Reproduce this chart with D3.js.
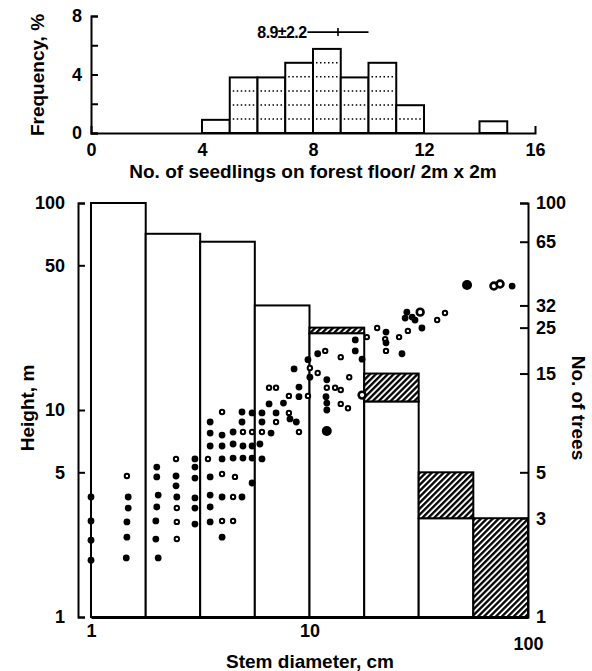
<!DOCTYPE html>
<html><head><meta charset="utf-8">
<script src="https://cdn.jsdelivr.net/npm/d3@7"></script>
<style>
body{margin:0;background:#fff}
text{font-family:"Liberation Sans",Arial,Helvetica,sans-serif;font-weight:bold;fill:#000}
</style>
</head><body>
<svg id="c" width="592" height="671"></svg>
<script>
// ---------- DATA ----------
// Top histogram: seedlings per 2m x 2m quadrat
const seedBinStart = [4, 5, 6, 7, 8, 9, 10, 11, 14];
const seedFreq     = [0.9, 3.8, 3.8, 4.8, 5.75, 3.8, 4.8, 1.9, 0.8];
const seedLevels   = [0.96, 1.92, 2.88, 3.84, 4.8];   // one quadrat per level
const seedMean = 8.9, seedSD = 2.2;
const seedMeanLabel = "8.9±2.2";
const seedXTicks = [0, 4, 8, 12, 16];
const seedYTicks = [0, 2, 4, 6, 8];
const seedYLabels = [0, 4, 8];

// Main: diameter classes and number of trees
const diamEdges   = [1, 1.78, 3.16, 5.62, 10, 17.8, 31.6, 56.2, 100];
const treesTotal  = [100, 71, 65, 32, 25, 15, 5, 3];
const treesOpen   = [100, 71, 65, 32, 23.5, 11, 3, 1];
const heightTicks = [1, 5, 10, 50, 100];
const treeTicks   = [1, 3, 5, 15, 25, 32, 65, 100];
const diamTicks   = [1, 10, 100];

// Scatter: stem diameter (cm), height (m), marker (f filled, o open, F/O large)
const treeDiameter = [1.0,1.0,1.0,1.0, 1.46,1.48,1.48,1.46,1.46,1.45, 2.0,2.0,2.03,2.0,1.98,1.98,2.03,
 2.45,2.45,2.45,2.47,2.47,2.47,2.47, 2.99,2.99,2.99,2.99,2.99,2.99,
 3.51,3.51,3.51,3.43,3.51,3.51,3.51,3.51, 3.98,3.98,3.98,3.98,3.98,3.98,3.98,3.98,
 4.47,4.47,4.47,4.56,4.47,4.47, 4.91,4.91,4.96,4.96,4.96,4.91, 5.46,5.46,5.46,5.46,5.46,
 6.06,6.06,6.06,5.93,6.06, 6.53,6.53,6.67, 7.03,7.03,7.03, 7.6, 8.05,8.05,8.14,8.5,
 8.95,8.95,8.7,8.95, 9.84,9.84,10.04,10.04, 10.9,10.9, 11.8,12.0,12.0,11.9,12.0,12.0,12.0,
 13.1, 13.9,13.9,13.9, 15.2,15.0, 16.2,16.2, 17.4,17.4, 18.3,20.4, 22.4,22.2,22.4,22.4,
 25.7,26.5, 27.9,29.5,27.4,32.1,30.4,28.2,32.7, 38.4,41.7, 52.6,69.8,74.5,84.6];
const treeHeight = [3.80,2.91,2.35,1.88, 4.80,3.80,3.36,2.88,2.43,1.93, 5.30,4.75,3.88,3.40,2.91,2.38,1.93,
 5.80,4.80,4.30,3.80,3.36,2.88,2.38, 5.80,5.30,4.69,3.76,3.36,2.81,
 8.75,7.74,6.70,5.80,4.75,3.88,3.40,2.88, 9.78,7.57,6.70,5.80,4.91,3.80,2.91,2.43,
 7.83,6.85,5.86,4.75,3.80,2.91, 9.78,8.75,7.83,6.70,5.86,3.80, 9.68,7.83,6.70,5.86,4.44,
 9.68,8.75,7.83,6.85,5.80, 12.8,10.7,7.74, 12.8,9.68,8.75, 10.8, 11.7,9.68,9.05,15.8,
 12.9,11.6,8.75,7.83, 11.7,17.5,15.96,14.4, 18.7,15.1, 19.3,14.0,12.8,11.6,10.8,10.0,7.92,
 12.8, 18.0,12.5,10.7, 14.4,10.2, 21.8,19.3, 17.6,11.8, 22.5,24.9, 23.8,22.0,21.1,19.3,
 22.5,18.7, 29.7,28.1,27.8,29.7,27.2,24.1,24.9, 27.2,29.4, 40.2,39.7,40.6,39.7];
const treeMark = ["f","f","f","f", "o","f","f","f","f","f", "f","f","f","f","f","f","f",
 "o","f","f","f","o","o","o", "f","f","f","f","f","f",
 "f","f","f","o","f","f","f","f", "o","f","f","f","o","f","o","f",
 "f","f","f","o","o","o", "f","f","o","f","f","f", "f","o","f","f","f",
 "f","f","o","f","f", "o","f","f", "o","f","o", "f", "o","o","f","f",
 "f","f","f","o", "o","f","o","f", "f","o", "o","f","o","f","f","f","F",
 "o", "o","o","o", "o","o", "f","f", "f","O", "o","o", "f","o","f","o",
 "o","f", "f","f","f","O","f","o","f", "o","o", "F","O","O","f"];

// ---------- DRAW ----------
const svg = d3.select("#c");
const defs = svg.append("defs");
const pat = defs.append("pattern").attr("id","hatch").attr("patternUnits","userSpaceOnUse")
  .attr("width",4.2).attr("height",4.2).attr("patternTransform","rotate(45)");
pat.append("rect").attr("width",4.2).attr("height",4.2).attr("fill","#fff");
pat.append("line").attr("x1",1.2).attr("y1",0).attr("x2",1.2).attr("y2",4.2)
  .attr("stroke","#000").attr("stroke-width",2.3);

function styleAxis(g, w, fs){
  g.select(".domain").attr("stroke","#000").attr("stroke-width",w).attr("fill","none");
  g.selectAll(".tick line").attr("stroke","#000").attr("stroke-width",w);
  g.selectAll("text").attr("font-size",fs).attr("font-family",null);
}

// ---- Top histogram ----
const xT = d3.scaleLinear().domain([0,16]).range([91,535]);
const yT = d3.scaleLinear().domain([0,8]).range([133,16]);
const gT = svg.append("g");

gT.selectAll("rect.sb").data(seedBinStart).join("rect")
  .attr("x", d => xT(d)).attr("width", d => xT(d+1) - xT(d))
  .attr("y", (d,i) => yT(seedFreq[i])).attr("height", (d,i) => yT(0) - yT(seedFreq[i]))
  .attr("fill","#fff").attr("stroke","#000").attr("stroke-width",2);

seedBinStart.forEach((s,i) => {
  seedLevels.filter(l => l < seedFreq[i] - 0.4).forEach(l => {
    gT.append("line").attr("x1", xT(s)+3).attr("x2", xT(s+1)-3)
      .attr("y1", yT(l)).attr("y2", yT(l))
      .attr("stroke","#000").attr("stroke-width",1.5).attr("stroke-dasharray","1.5,2.5");
  });
});

const axYT = gT.append("g").attr("transform","translate(91,0)")
  .call(d3.axisLeft(yT).tickValues(seedYTicks)
    .tickFormat(d => seedYLabels.includes(d) ? d : "")
    .tickSizeInner(-7).tickSizeOuter(-7).tickPadding(9));
styleAxis(axYT, 2, 18);
const axXT = gT.append("g").attr("transform","translate(0,133)")
  .call(d3.axisBottom(xT).tickValues(seedXTicks).tickSizeInner(0).tickSizeOuter(-7).tickPadding(10));
styleAxis(axXT, 2, 18);

// mean +- SD marker
const my = yT(6.9);
gT.append("line").attr("x1", xT(seedMean - seedSD/2)).attr("x2", xT(seedMean + seedSD/2))
  .attr("y1", my).attr("y2", my).attr("stroke","#000").attr("stroke-width",1.6);
gT.append("line").attr("x1", xT(seedMean)).attr("x2", xT(seedMean))
  .attr("y1", my-4).attr("y2", my+4).attr("stroke","#000").attr("stroke-width",1.6);
gT.append("text").attr("x", xT(seedMean - seedSD/2) - 1).attr("y", my + 5.5)
  .attr("text-anchor","end").attr("font-size",16).attr("letter-spacing","-0.6")
  .text(seedMeanLabel);

gT.append("text").attr("transform","translate(44,75) rotate(-90)")
  .attr("text-anchor","middle").attr("font-size",19).text("Frequency, %");
gT.append("text").attr("x",313).attr("y",178).attr("text-anchor","middle")
  .attr("font-size",19).text("No. of seedlings on forest floor/ 2m x 2m");

// ---- Main chart ----
const x = d3.scaleLog().domain([1,100]).range([91,528]);
const y = d3.scaleLog().domain([1,100]).range([617,203]);
const gM = svg.append("g");

// open (white) parts of bars
gM.selectAll("rect.open").data(treesOpen).join("rect")
  .attr("x", (d,i) => x(diamEdges[i])).attr("width", (d,i) => x(diamEdges[i+1]) - x(diamEdges[i]))
  .attr("y", d => y(d)).attr("height", d => y(1) - y(d))
  .attr("fill","#fff").attr("stroke","#000").attr("stroke-width",2);
// hatched parts
const hIdx = treesTotal.map((d,i) => i).filter(i => treesTotal[i] > treesOpen[i]);
gM.selectAll("rect.hatch").data(hIdx).join("rect")
  .attr("x", i => x(diamEdges[i])).attr("width", i => x(diamEdges[i+1]) - x(diamEdges[i]))
  .attr("y", i => y(treesTotal[i])).attr("height", i => y(treesOpen[i]) - y(treesTotal[i]))
  .attr("fill","url(#hatch)").attr("stroke","#000").attr("stroke-width",2);

// axes
const axL = gM.append("g").attr("transform","translate(78,0)")
  .call(d3.axisLeft(y).tickValues(heightTicks).tickFormat(d3.format("d"))
    .tickSizeInner(-7).tickSizeOuter(-7).tickPadding(13));
styleAxis(axL, 2, 18);
const axR = gM.append("g").attr("transform","translate(528,0)")
  .call(d3.axisRight(y).tickValues(treeTicks).tickFormat(d3.format("d"))
    .tickSizeInner(-8).tickSizeOuter(-8).tickPadding(8));
styleAxis(axR, 2, 18);
const axB = gM.append("g").attr("transform","translate(0,617)")
  .call(d3.axisBottom(x).tickValues(diamTicks).tickFormat(d3.format("d"))
    .tickSizeInner(0).tickSizeOuter(0).tickPadding(7));
styleAxis(axB, 3, 18);
axB.selectAll(".tick text").filter(d => d === 100).attr("dy","1.45em");

// scatter
const pts = treeDiameter.map((d,i) => ({d, h: treeHeight[i], m: treeMark[i]}));
const rad = {f: 3.4, o: 2.2, F: 5, O: 3.4};
const sw  = {f: 0, o: 2, F: 0, O: 2.6};
gM.selectAll("circle.pt").data(pts).join("circle")
  .attr("cx", p => x(p.d)).attr("cy", p => y(p.h))
  .attr("r", p => rad[p.m])
  .attr("fill", p => (p.m === "f" || p.m === "F") ? "#000" : "#fff")
  .attr("stroke","#000")
  .attr("stroke-width", p => sw[p.m]);

gM.append("text").attr("transform","translate(34,408) rotate(-90)")
  .attr("text-anchor","middle").attr("font-size",19).text("Height, m");
gM.append("text").attr("transform","translate(572,408) rotate(90)")
  .attr("text-anchor","middle").attr("font-size",19).text("No. of trees");
gM.append("text").attr("x",310).attr("y",668).attr("text-anchor","middle")
  .attr("font-size",19).text("Stem diameter, cm");
</script>
</body></html>
